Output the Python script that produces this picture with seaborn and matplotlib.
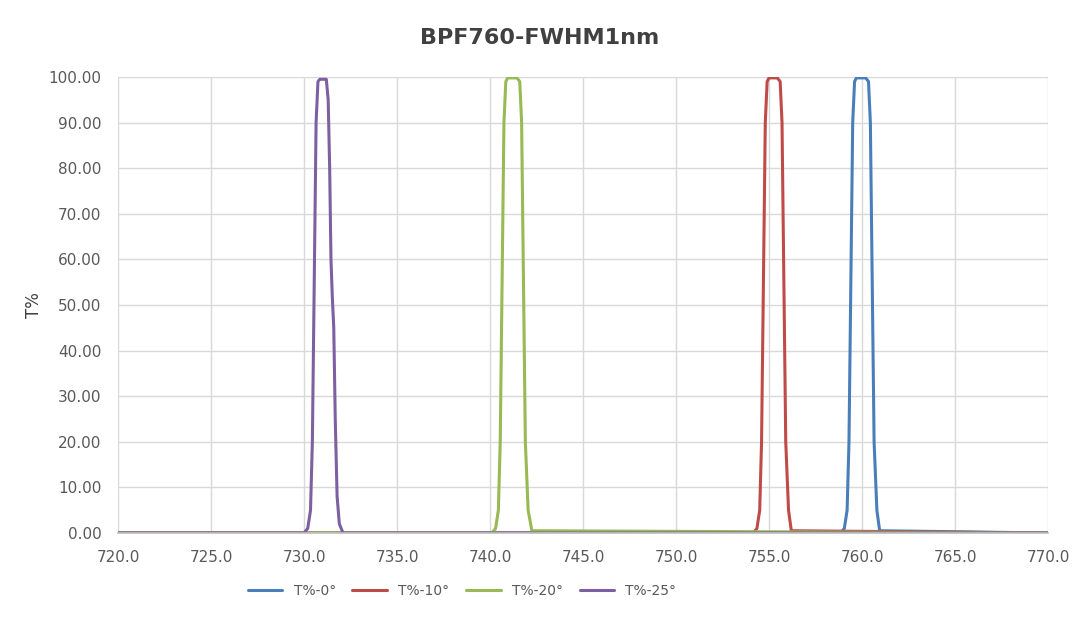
import pandas as pd
import matplotlib.pyplot as plt
import seaborn as sns

# Wavelength (nm) / transmittance (%)
wl_0 = [720.0, 758.85, 759.05, 759.2, 759.3, 759.4, 759.5, 759.6, 759.7, 760.2, 760.35, 760.45, 760.55, 760.65, 760.8, 760.95, 770.0]
t_0 = [0.0, 0.0, 1.0, 5.0, 20.0, 55.0, 90.0, 99.0, 99.8, 99.8, 99.0, 90.0, 55.0, 20.0, 5.0, 0.5, 0.0]

wl_10 = [720.0, 754.15, 754.35, 754.5, 754.6, 754.7, 754.8, 754.9, 755.0, 755.45, 755.6, 755.7, 755.8, 755.9, 756.05, 756.2, 770.0]
t_10 = [0.0, 0.0, 1.0, 5.0, 20.0, 55.0, 90.0, 99.0, 99.8, 99.8, 99.0, 90.0, 55.0, 20.0, 5.0, 0.5, 0.0]

wl_20 = [720.0, 740.1, 740.3, 740.45, 740.55, 740.65, 740.75, 740.85, 740.95, 741.45, 741.6, 741.7, 741.8, 741.9, 742.05, 742.25, 770.0]
t_20 = [0.0, 0.0, 1.0, 5.0, 20.0, 55.0, 90.0, 99.0, 99.8, 99.8, 99.0, 90.0, 55.0, 20.0, 5.0, 0.5, 0.0]

wl_25 = [720.0, 730.0, 730.2, 730.35, 730.45, 730.55, 730.65, 730.75, 730.85, 731.2, 731.3, 731.38, 731.45, 731.52, 731.6, 731.68, 731.78, 731.9, 732.1, 770.0]
t_25 = [0.0, 0.0, 1.0, 5.0, 20.0, 55.0, 90.0, 99.0, 99.5, 99.5, 95.0, 80.0, 60.0, 52.0, 45.0, 25.0, 8.0, 2.0, 0.0, 0.0]

labels = ["T%-0°", "T%-10°", "T%-20°", "T%-25°"]
colors = ["#4a7ebb", "#be4b48", "#98b954", "#7d60a0"]

frames = []
for lab, wl, t in zip(labels, [wl_0, wl_10, wl_20, wl_25], [t_0, t_10, t_20, t_25]):
    frames.append(pd.DataFrame({"wl": wl, "T": t, "series": lab}))
df = pd.concat(frames, ignore_index=True)

sns.set_theme(style="whitegrid")
plt.rcParams['font.family'] = ['DejaVu Sans']

fig = plt.figure(figsize=(10.8, 6.28), dpi=100)
ax = fig.add_axes([118 / 1080, 1 - 533 / 628, 930 / 1080, 456 / 628])
sns.lineplot(data=df, x="wl", y="T", hue="series", palette=colors, linewidth=2.2,
             sort=False, estimator=None, ax=ax)

ax.set_xlim(720, 770)
ax.set_ylim(0, 100)
ax.set_xticks([720 + 5 * i for i in range(11)])
ax.set_xticklabels([f"{720 + 5 * i:.1f}" for i in range(11)])
ax.set_yticks([10 * i for i in range(11)])
ax.set_yticklabels([f"{10 * i:.2f}" for i in range(11)])
ax.tick_params(labelsize=11, colors="#595959", pad=6)
ax.grid(color="#d9d9d9", linewidth=1)
for s in ["top", "right", "left"]:
    ax.spines[s].set_visible(False)
ax.spines["bottom"].set_color("#bfbfbf")
ax.set_xlabel("")
ax.set_ylabel("T%", fontsize=12, color="#404040")
fig.suptitle("BPF760-FWHM1nm", y=0.955, fontsize=16, fontweight="bold", color="#404040")
ax.legend(loc="upper center", bbox_to_anchor=(0.37, -0.085), ncol=4, frameon=False,
          fontsize=10, handlelength=2.5, columnspacing=1.2, labelcolor="#595959")

fig.savefig("out.png", dpi=100)
